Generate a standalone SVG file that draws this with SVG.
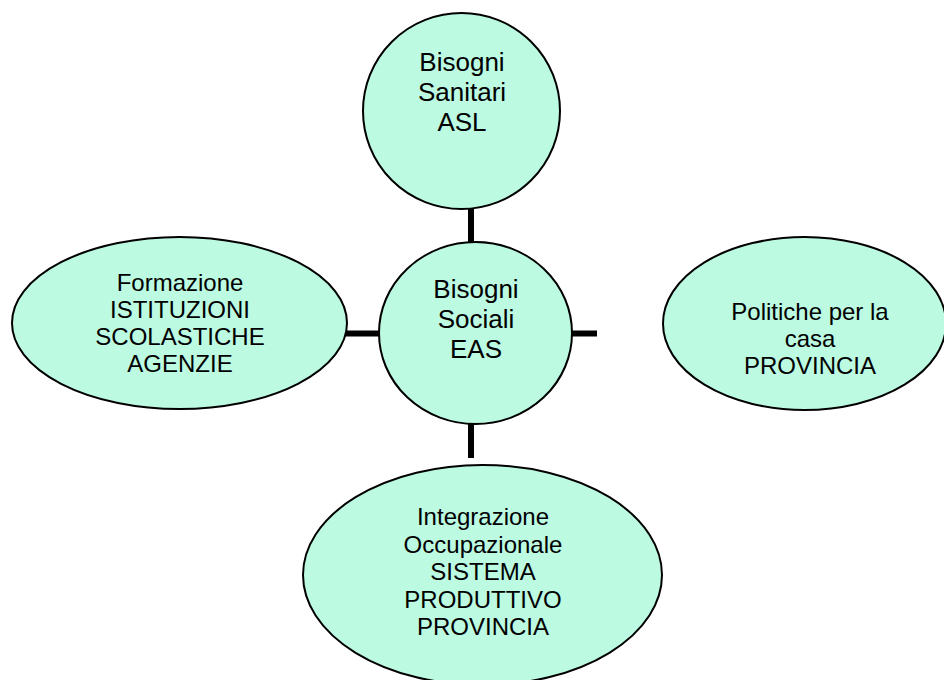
<svg xmlns="http://www.w3.org/2000/svg" width="944" height="680" viewBox="0 0 944 680">
  <style>
    .node { fill: #BCFAE2; stroke: #000; stroke-width: 2; }
    .lbl { font-family: "Liberation Sans", Arial, sans-serif; fill: #000; text-anchor: middle; }
    .big { font-size: 26px; }
    .small { font-size: 24px; }
    .link { stroke: #000; stroke-width: 6; fill: none; }
  </style>
  <rect width="944" height="680" fill="#fff"/>

  <!-- spokes from the central node -->
  <g id="connectors">
    <line class="link" x1="471" y1="209" x2="471" y2="243"/>
    <line class="link" x1="471" y1="423" x2="471" y2="458"/>
    <line class="link" x1="345" y1="333.5" x2="380" y2="333.5"/>
    <line class="link" x1="571" y1="333.5" x2="597" y2="333.5"/>
  </g>

  <g id="sanitari">
    <ellipse class="node" cx="461.5" cy="111" rx="98.5" ry="98"/>
    <text class="lbl big" x="462" y="71">Bisogni</text>
    <text class="lbl big" x="462" y="101">Sanitari</text>
    <text class="lbl big" x="462" y="131">ASL</text>
  </g>

  <g id="sociali">
    <ellipse class="node" cx="475.5" cy="333" rx="96.5" ry="91"/>
    <text class="lbl big" x="476" y="297.5">Bisogni</text>
    <text class="lbl big" x="476" y="327.5">Sociali</text>
    <text class="lbl big" x="476" y="357.5">EAS</text>
  </g>

  <g id="formazione">
    <ellipse class="node" cx="179.5" cy="323" rx="167.5" ry="86"/>
    <text class="lbl small" x="180" y="291">Formazione</text>
    <text class="lbl small" x="180" y="318">ISTITUZIONI</text>
    <text class="lbl small" x="180" y="345">SCOLASTICHE</text>
    <text class="lbl small" x="180" y="372">AGENZIE</text>
  </g>

  <g id="casa">
    <ellipse class="node" cx="804.5" cy="323.5" rx="141.5" ry="86.5"/>
    <text class="lbl small" x="810" y="319.5">Politiche per la</text>
    <text class="lbl small" x="810" y="346.5">casa</text>
    <text class="lbl small" x="810" y="373.5">PROVINCIA</text>
  </g>

  <g id="occupazionale">
    <ellipse class="node" cx="482.5" cy="575" rx="179.5" ry="110"/>
    <text class="lbl small" x="483" y="525">Integrazione</text>
    <text class="lbl small" x="483" y="552.5">Occupazionale</text>
    <text class="lbl small" x="483" y="580">SISTEMA</text>
    <text class="lbl small" x="483" y="607.5">PRODUTTIVO</text>
    <text class="lbl small" x="483" y="635">PROVINCIA</text>
  </g>
</svg>
